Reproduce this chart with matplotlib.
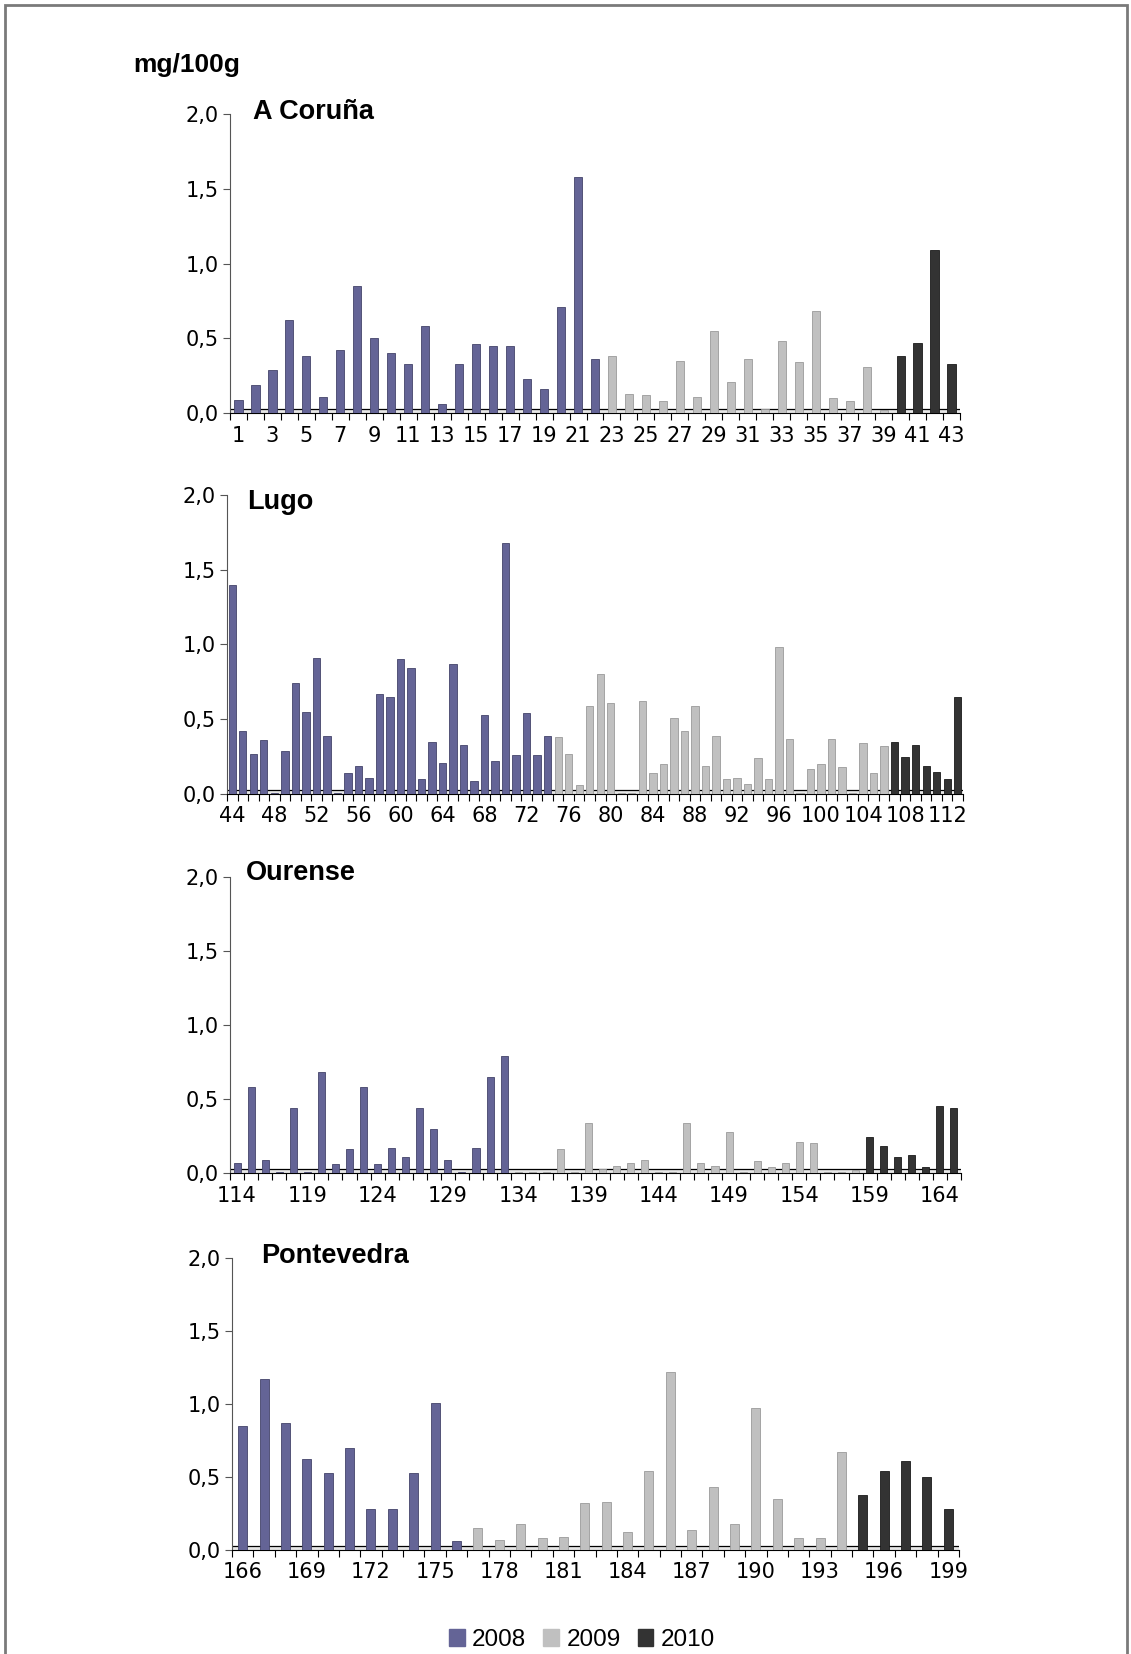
import numpy as np
import matplotlib
matplotlib.use("Agg")
import matplotlib.pyplot as plt
from matplotlib.patches import Patch, Rectangle

# mg/100g per sample, split by sampling year
coruna_2008 = [0.09, 0.19, 0.29, 0.62, 0.38, 0.11, 0.42, 0.85, 0.50, 0.40, 0.33,
               0.58, 0.06, 0.33, 0.46, 0.45, 0.45, 0.23, 0.16, 0.71, 1.58, 0.36]
coruna_2009 = [0.38, 0.13, 0.12, 0.08, 0.35, 0.11, 0.55, 0.21, 0.36, 0.03, 0.48,
               0.34, 0.68, 0.10, 0.08, 0.31, 0.02]
coruna_2010 = [0.38, 0.47, 1.09, 0.33]

lugo_2008 = [1.40, 0.42, 0.27, 0.36, 0.01, 0.29, 0.74, 0.55, 0.91, 0.39, 0.01,
             0.14, 0.19, 0.11, 0.67, 0.65, 0.90, 0.84, 0.10, 0.35, 0.21, 0.87,
             0.33, 0.09, 0.53, 0.22, 1.68, 0.26, 0.54, 0.26, 0.39]
lugo_2009 = [0.38, 0.27, 0.06, 0.59, 0.80, 0.61, 0.01, 0.01, 0.62, 0.14, 0.20,
             0.51, 0.42, 0.59, 0.19, 0.39, 0.10, 0.11, 0.07, 0.24, 0.10, 0.98,
             0.37, 0.01, 0.17, 0.20, 0.37, 0.18, 0.01, 0.34, 0.14, 0.32]
lugo_2010 = [0.35, 0.25, 0.33, 0.19, 0.15, 0.10, 0.65]

ourense_2008 = [0.07, 0.58, 0.09, 0.01, 0.44, 0.01, 0.68, 0.06, 0.16, 0.58,
                0.06, 0.17, 0.11, 0.44, 0.30, 0.09, 0.01, 0.17, 0.65, 0.79]
ourense_2009 = [0.01, 0.01, 0.01, 0.16, 0.01, 0.34, 0.03, 0.05, 0.07, 0.09,
                0.005, 0.005, 0.34, 0.07, 0.05, 0.28, 0.005, 0.08, 0.04, 0.07,
                0.21, 0.20, 0.005, 0.005, 0.02]
ourense_2010 = [0.24, 0.18, 0.11, 0.12, 0.04, 0.45, 0.44]

ponte_2008 = [0.85, 1.17, 0.87, 0.62, 0.53, 0.70, 0.28, 0.28, 0.53, 1.01, 0.06]
ponte_2009 = [0.15, 0.07, 0.18, 0.08, 0.09, 0.32, 0.33, 0.12, 0.54, 1.22, 0.14,
              0.43, 0.18, 0.97, 0.35, 0.08, 0.08, 0.67]
ponte_2010 = [0.38, 0.54, 0.61, 0.50, 0.28]

years = ["2008", "2009", "2010"]
colors = ["#646496", "#c0c0c0", "#333333"]

# name, first sample number, series, label step, bar width, axes box (px), title pos (px)
panels = [
    ("A Coruña", 1, [coruna_2008, coruna_2009, coruna_2010], 2, 0.48, (230, 960, 413, 114), (253, 112)),
    ("Lugo", 44, [lugo_2008, lugo_2009, lugo_2010], 4, 0.70, (227, 963, 794, 495), (247, 502)),
    ("Ourense", 114, [ourense_2008, ourense_2009, ourense_2010], 5, 0.50, (230, 961, 1173, 877), (246, 873)),
    ("Pontevedra", 166, [ponte_2008, ponte_2009, ponte_2010], 3, 0.42, (232, 959, 1550, 1258), (261, 1256)),
]

W, H = 1131, 1654
fig = plt.figure(figsize=(W / 100, H / 100), dpi=100)

# outer frame
fig.patches.append(Rectangle((5 / W, -0.01), 1122 / W, 1 - 5 / H + 0.01, transform=fig.transFigure,
                             fill=False, edgecolor="#7a7a7a", lw=2))

fig.text(133 / W, 1 - 65 / H, "mg/100g", fontsize=19, fontweight="bold",
         family="Liberation Sans", va="center", ha="left")


def fmt(v):
    return f"{v:.1f}".replace(".", ",")


for name, start, series, step, bw, (x0, x1, y0, y2), (tx, ty) in panels:
    ax = fig.add_axes([x0 / W, 1 - y0 / H, (x1 - x0) / W, (y0 - y2) / H])
    pos = start
    for vals, c in zip(series, colors):
        xs = np.arange(pos, pos + len(vals))
        ec = "#44446a" if c == colors[0] else ("#9a9a9a" if c == colors[1] else "#1a1a1a")
        ax.bar(xs, vals, width=bw, color=c, edgecolor=ec, linewidth=0.6, zorder=3)
        pos += len(vals)
    end = pos - 1

    ax.set_xlim(start - 0.5, end + 0.5)
    ax.set_ylim(0, 2.0)

    # 3d floor
    ax.axhspan(0, 0.028, facecolor="#e6e6e6", zorder=1)
    ax.axhline(0.028, color="black", lw=0.9, zorder=2)

    for s in ["top", "right"]:
        ax.spines[s].set_visible(False)
    ax.spines["left"].set_color("#555555")
    ax.spines["bottom"].set_color("black")

    ax.set_yticks([0, 0.5, 1.0, 1.5, 2.0])
    ax.set_yticklabels([fmt(v) for v in [0, 0.5, 1.0, 1.5, 2.0]], fontsize=15, family="DejaVu Sans")
    ax.tick_params(axis="y", length=5, width=0.8, color="#555555", pad=3)

    ax.set_xticks(np.arange(start - 0.5, end + 1.0, 1.0))
    ax.set_xticklabels([])
    ax.tick_params(axis="x", which="major", length=5, width=0.8, direction="out")
    lab = np.arange(start, end + 1, step)
    ax.set_xticks(lab, minor=True)
    ax.set_xticklabels([str(v) for v in lab], minor=True, fontsize=15, family="DejaVu Sans")
    ax.tick_params(axis="x", which="minor", length=0, pad=9)

    fig.text(tx / W, 1 - ty / H, name, fontsize=19.5, fontweight="bold",
             family="Liberation Sans", va="center", ha="left")

handles = [Patch(facecolor=c, edgecolor=c) for c in colors]
fig.legend(handles, years, loc="center", bbox_to_anchor=(582 / W, 1 - 1640 / H), ncol=3,
           frameon=False, prop={"family": "Liberation Sans", "size": 17.5},
           handlelength=0.65, handleheight=0.65, handletextpad=0.3, columnspacing=0.7)

fig.savefig("out.png", dpi=100)
